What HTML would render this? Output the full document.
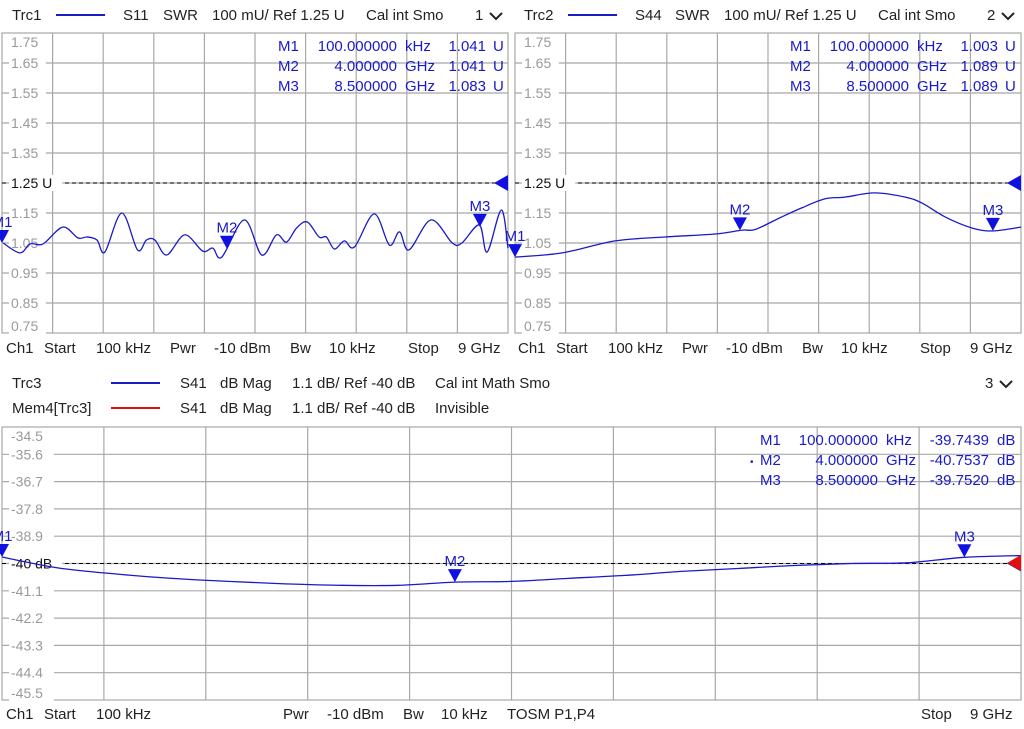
<!DOCTYPE html>
<html><head><meta charset="utf-8"><style>
html,body{margin:0;padding:0;background:#fff;}
svg{display:block;font-family:"Liberation Sans","DejaVu Sans",sans-serif;}
</style></head><body>
<svg id="s" width="1024" height="729" viewBox="0 0 1024 729"></svg>
<script>
// ---- data ----
const s11Freq=[0.02,0.32,0.5,0.73,1.08,1.35,1.51,1.69,1.83,2.13,2.41,2.57,2.72,2.93,3.25,3.57,3.75,3.91,4.31,4.62,4.88,5.06,5.24,5.43,5.64,5.77,5.91,6.09,6.27,6.62,6.89,7.07,7.24,7.63,8.01,8.18,8.49,8.63,8.88,9.0];
const s11Val=[1.05,1.017,1.047,1.047,1.103,1.067,1.07,1.06,1.02,1.15,1.027,1.06,1.06,1.01,1.077,1.023,1.033,1.003,1.127,1.01,1.077,1.053,1.1,1.12,1.07,1.07,1.03,1.057,1.037,1.147,1.043,1.087,1.027,1.127,1.05,1.05,1.11,1.02,1.16,1.033];
const s44Freq=[0,0.84,1.78,2.67,3.56,4.04,4.27,4.7,5.1,5.51,5.87,6.4,6.94,7.24,7.65,8.13,8.49,9];
const s44Val=[1.003,1.017,1.057,1.07,1.08,1.093,1.095,1.133,1.167,1.197,1.203,1.217,1.203,1.183,1.137,1.1,1.09,1.103];
const s41Freq=[0,0.5,1,1.5,2,2.5,3,3.5,4,4.5,5,5.5,6,6.5,7,7.5,8,8.5,9];
const s41Val=[-39.74,-40.18,-40.42,-40.6,-40.72,-40.82,-40.88,-40.88,-40.75,-40.72,-40.6,-40.48,-40.32,-40.2,-40.08,-40.0,-39.97,-39.75,-39.68];
const swrTicks=["1.75","1.65","1.55","1.45","1.35","1.25 U","1.15","1.05","0.95","0.85","0.75"];
const dbTicks=["-34.5","-35.6","-36.7","-37.8","-38.9","-40 dB","-41.1","-42.2","-43.3","-44.4","-45.5"];
const markerFreq=[0.0001,4.0,8.5];

const NS="http://www.w3.org/2000/svg";
const svg=document.getElementById('s');
function el(tag,attrs,parent){const e=document.createElementNS(NS,tag);for(const k in attrs)e.setAttribute(k,attrs[k]);(parent||svg).appendChild(e);return e;}
function txt(x,y,s,o,parent){o=o||{};const t=el('text',{x:x,y:y,'font-size':o.size||15,fill:o.fill||'#222','text-anchor':o.anchor||'start'},parent);t.textContent=s;return t;}
function interp(fa,va,f){if(f<=fa[0])return va[0];for(let i=1;i<fa.length;i++){if(f<=fa[i]){const t=(f-fa[i-1])/(fa[i]-fa[i-1]);return va[i-1]+t*(va[i]-va[i-1]);}}return va[va.length-1];}
function smoothPath(pts){
  let d='M'+pts[0][0].toFixed(1)+','+pts[0][1].toFixed(1);
  for(let i=0;i<pts.length-1;i++){
    const p0=pts[i-1]||pts[i],p1=pts[i],p2=pts[i+1],p3=pts[i+2]||p2;
    const c1=[p1[0]+(p2[0]-p0[0])/6,p1[1]+(p2[1]-p0[1])/6];
    const c2=[p2[0]-(p3[0]-p1[0])/6,p2[1]-(p3[1]-p1[1])/6];
    d+='C'+c1[0].toFixed(1)+','+c1[1].toFixed(1)+' '+c2[0].toFixed(1)+','+c2[1].toFixed(1)+' '+p2[0].toFixed(1)+','+p2[1].toFixed(1);
  }
  return d;
}

function panel(name,L,R,T,B,top,bot,ticks,refVal,fr,vals,ch){
  const g=el('g',{});
  
  
  const X=f=>L+(f/9)*(R-L);
  const Y=v=>T+(top-v)/(top-bot)*(B-T);
  for(let i=1;i<10;i++){const x=L+i*(R-L)/10;el('line',{x1:x,y1:T,x2:x,y2:B,stroke:'#a8a8a8','stroke-width':1.2},g);}
  for(let i=1;i<10;i++){const y=T+i*(B-T)/10;el('line',{x1:L,y1:y,x2:R,y2:y,stroke:'#a8a8a8','stroke-width':1.2},g);}
  el('rect',{x:L,y:T,width:R-L,height:B-T,fill:'none',stroke:'#a8a8a8','stroke-width':1.2},g);
  const ry=Y(refVal);
  const refLine=el('line',{x1:L,y1:ry,x2:R,y2:ry,stroke:'#000','stroke-width':1,'stroke-dasharray':'4,3'},g);
  
  
  for(let i=0;i<ticks.length;i++){
    let y=T+i*(B-T)/10;
    if(i===0)y+=9; if(i===10)y-=7;
    const isRef=i===5;
    const w=ticks[i].length*8.2+4;
    el('rect',{x:L+7,y:y-8,width:w,height:16,fill:'#fff'},g);
    const t=txt(L+9,y+5,ticks[i],{fill:isRef?'#111':'#9a9a9a',size:14},g);
    
    
  }
  const pts=fr.map((f,i)=>[X(f),Y(vals[i])]);
  const p=el('path',{d:smoothPath(pts),fill:'none',stroke:'#1a1ac8','stroke-width':1.3,'stroke-linejoin':'round'},g);
  
  
  const a=el('polygon',{points:`${R},${ry-8} ${R},${ry+8} ${R-14},${ry}`,fill:'#1010e0'},g);
  
  
  for(let m=0;m<markerFreq.length;m++){
    const mx=X(markerFreq[m]), my=Y(interp(fr,vals,markerFreq[m]));
    const tri=el('polygon',{points:`${mx-7},${my-13} ${mx+7},${my-13} ${mx},${my}`,fill:'#1010e0'},g);
    
    
    const lb=txt(mx,my-16,'M'+(m+1),{fill:'#1a1ac8',anchor:'middle',size:15},g);
    
    
  }
  return {X,Y,g};
}

panel('s11-swr-chart',2,508,33,333,1.75,0.75,swrTicks,1.25,s11Freq,s11Val,'s11');
panel('s44-swr-chart',515,1021,33,333,1.75,0.75,swrTicks,1.25,s44Freq,s44Val,'s44');
panel('s41-dbmag-chart',2,1021,427,700,-34.5,-45.5,dbTicks,-40,s41Freq,s41Val,'s41');
const ra=el('polygon',{points:`1021,555 1021,571 1007,563`,fill:'#e01010'});



function row(items,y,parent,fill){items.forEach(it=>{txt(it[0],y,it[1],{fill:it[2]||fill||'#222',anchor:it[3]||'start',size:it[4]||15},parent);});}
function hdr(name,x0,trc,param,num){
  const g=el('g',{});
  
  
  row([[x0+10,trc],[x0+121,param],[x0+161,'SWR'],[x0+210,'100 mU/ Ref 1.25 U'],[x0+364,'Cal int Smo'],[x0+473,num]],20,g);
  el('line',{x1:x0+54,y1:15,x2:x0+103,y2:15,stroke:'#1a1ac8','stroke-width':2},g);
  el('polyline',{points:`${x0+488},13 ${x0+494},19 ${x0+500},13`,fill:'none',stroke:'#222','stroke-width':2},g);
}
hdr('trace1-header',2,'Trc1','S11','1');
hdr('trace2-header',514,'Trc2','S44','2');
function foot(name,x0,y){
  const g=el('g',{});
  
  
  row([[x0+4,'Ch1'],[x0+42,'Start'],[x0+94,'100 kHz'],[x0+168,'Pwr'],[x0+212,'-10 dBm'],[x0+288,'Bw'],[x0+327,'10 kHz'],[x0+406,'Stop'],[x0+456,'9 GHz']],y,g);
}
foot('channel1-footer-left',2,353);
foot('channel1-footer-right',514,353);
function mtab(name,xm,freqEnd,vals,unit,y0,dot){
  const g=el('g',{});
  
  
  const fs=['100.000000','4.000000','8.500000'],us=['kHz','GHz','GHz'];
  for(let i=0;i<3;i++){
    const y=y0+i*20;
    row([[xm,'M'+(i+1)],[freqEnd,fs[i],null,'end'],[freqEnd+8,us[i]],[freqEnd+(unit==='U'?89:111),vals[i],null,'end'],[freqEnd+(unit==='U'?96:119),unit]],y,g,'#1a1ac8');
  }
  if(dot)txt(xm-10,y0+20,'•',{fill:'#1a1ac8',size:10},g);
}
mtab('trace1-marker-table',278,397,['1.041','1.041','1.083'],'U',51);
mtab('trace2-marker-table',790,909,['1.003','1.089','1.089'],'U',51);
mtab('trace3-marker-table',760,878,['-39.7439','-40.7537','-39.7520'],'dB',445,true);
const bh=el('g',{});


row([[12,'Trc3'],[180,'S41'],[220,'dB Mag'],[292,'1.1 dB/ Ref -40 dB'],[435,'Cal int Math Smo'],[985,'3']],388,bh);
el('line',{x1:111,y1:383,x2:160,y2:383,stroke:'#1a1ac8','stroke-width':2},bh);
el('polyline',{points:`1000,381 1006,387 1012,381`,fill:'none',stroke:'#222','stroke-width':2},bh);
const mh=el('g',{});


row([[12,'Mem4[Trc3]'],[180,'S41'],[220,'dB Mag'],[292,'1.1 dB/ Ref -40 dB'],[435,'Invisible']],413,mh);
el('line',{x1:111,y1:408,x2:160,y2:408,stroke:'#e01010','stroke-width':2},mh);
const bf=el('g',{});


row([[6,'Ch1'],[44,'Start'],[96,'100 kHz'],[283,'Pwr'],[327,'-10 dBm'],[403,'Bw'],[441,'10 kHz'],[507,'TOSM P1,P4'],[921,'Stop'],[970,'9 GHz']],719,bf);
</script>
</body></html>
